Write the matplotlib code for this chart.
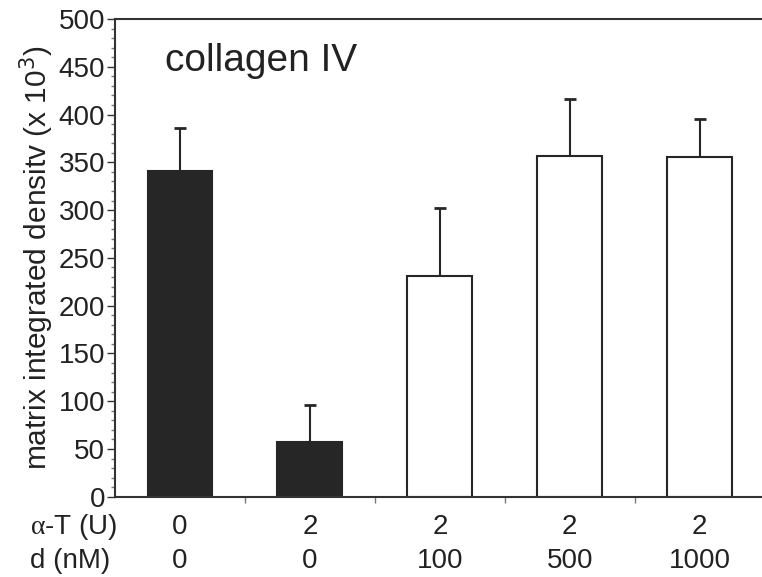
import matplotlib.pyplot as plt
import matplotlib.transforms as mtrans
import matplotlib.ticker as ticker
import numpy as np

plt.rcParams['font.family'] = ['Liberation Sans Narrow', 'Liberation Sans', 'DejaVu Sans']
plt.rcParams['mathtext.fontset'] = 'custom'
plt.rcParams['mathtext.rm'] = 'Liberation Serif'
plt.rcParams['mathtext.sf'] = 'Liberation Sans Narrow'

alpha_t = ["0", "2", "2", "2", "2"]
d_nm = ["0", "0", "100", "500", "1000"]
means = [341, 57, 231, 357, 356]
errs = [45, 39, 71, 59, 39]
fills = ["#262626", "#262626", "white", "white", "white"]

fig = plt.figure(figsize=(7.62, 5.77), dpi=100)
ax = fig.add_axes([0.151, 0.139, 0.849, 0.828])

x = np.arange(len(means))
ax.bar(x, means, width=0.5, color=fills, edgecolor="#262626", linewidth=1.5, zorder=2)
ax.errorbar(x, means, yerr=[np.zeros(len(errs)), errs], fmt="none", ecolor="#262626",
            elinewidth=1.5, capsize=4, capthick=2, zorder=1)

ax.set_xlim(-0.5, 4.48)
ax.set_ylim(0, 500)
ax.spines["right"].set_visible(False)
for s in ["left", "bottom", "top"]:
    ax.spines[s].set_linewidth(1.5)
    ax.spines[s].set_color("#333333")

ax.yaxis.set_major_locator(ticker.MultipleLocator(50))
ax.yaxis.set_minor_locator(ticker.MultipleLocator(10))
ax.tick_params(axis="y", which="major", length=6, width=1, labelsize=20, pad=1,
               colors="#333333", labelcolor="#222222")
ax.tick_params(axis="y", which="minor", length=3, width=1, colors="#777777")
ax.set_xticks(np.arange(0.5, 4.5, 1))
ax.set_xticklabels([])
ax.tick_params(axis="x", length=4, width=1, colors="#777777")
ax.set_ylabel("matrix integrated densitv (x 10$^{\\mathsf{3}}$)", fontsize=21.5,
              color="#222222", labelpad=2)

ax.text(0.077, 0.95, "collagen IV", transform=ax.transAxes, fontsize=28,
        color="#222222", va="top", ha="left")

trans = mtrans.blended_transform_factory(ax.transData, fig.transFigure)
for i in range(len(means)):
    ax.text(x[i], 1 - 527 / 577, alpha_t[i], transform=trans, ha="center", va="center",
            fontsize=20, color="#222222")
    ax.text(x[i], 1 - 561 / 577, d_nm[i], transform=trans, ha="center", va="center",
            fontsize=20, color="#222222")
fig.text(30 / 762, 1 - 527 / 577, "$\\mathrm{\\alpha}$-T (U)", ha="left", va="center",
         fontsize=20, color="#222222")
fig.text(30 / 762, 1 - 561 / 577, "d (nM)", ha="left", va="center", fontsize=20,
         color="#222222")

fig.savefig("out.png", dpi=100)
